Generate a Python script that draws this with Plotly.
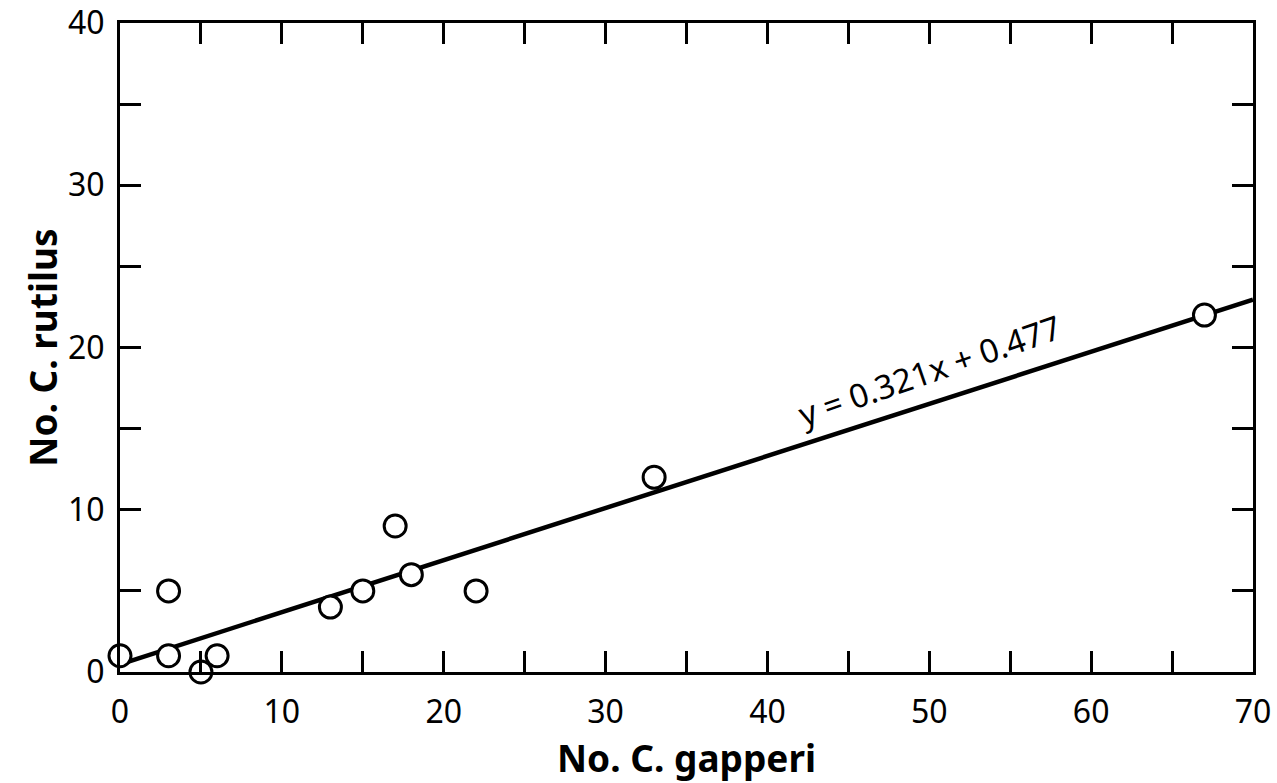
import plotly.graph_objects as go

# Data
gapperi = [0, 3, 3, 5, 6, 13, 15, 17, 18, 22, 33, 67]
rutilus = [1, 1, 5, 0, 1, 4, 5, 9, 6, 5, 12, 22]

slope = 0.321
intercept = 0.477
fit_x = [0, 70]
fit_y = [slope * v + intercept for v in fit_x]

x_tickvals = [0, 5, 10, 15, 20, 25, 30, 35, 40, 45, 50, 55, 60, 65, 70]
x_ticktext = ["0", "", "10", "", "20", "", "30", "", "40", "", "50", "", "60", "", "70"]
y_tickvals = [0, 5, 10, 15, 20, 25, 30, 35, 40]
y_ticktext = ["0", "", "10", "", "20", "", "30", "", "40"]

FONT = "Noto Sans"

fig = go.Figure()
fig.add_trace(go.Scatter(
    x=fit_x, y=fit_y, mode="lines",
    line=dict(color="black", width=4.5),
    showlegend=False, hoverinfo="skip",
))
fig.add_trace(go.Scatter(
    x=gapperi, y=rutilus, mode="markers",
    marker=dict(symbol="circle", size=22, color="white",
                line=dict(color="black", width=3)),
    cliponaxis=False, showlegend=False,
))

fig.add_annotation(
    x=50.0, y=18.6, xref="x", yref="y",
    text="y = 0.321x + 0.477", showarrow=False, textangle=-19,
    font=dict(family=FONT, size=33, color="black"),
)

axis_common = dict(
    showgrid=False, zeroline=False, showline=True, linecolor="black", linewidth=3,
    ticks="inside", ticklen=21, tickwidth=3, tickcolor="black", mirror="ticks",
    tickfont=dict(family=FONT, size=32, color="black"), automargin=False,
)

fig.update_xaxes(
    range=[0, 70], tickmode="array", tickvals=x_tickvals, ticktext=x_ticktext,
    title=dict(text="<b>No. C. gapperi</b>", font=dict(family=FONT, size=37, color="black"), standoff=12),
    ticklabelstandoff=10,
    **axis_common,
)
fig.update_yaxes(
    range=[0, 40], tickmode="array", tickvals=y_tickvals, ticktext=y_ticktext,
    title=dict(text="<b>No. C. rutilus</b>", font=dict(family=FONT, size=37, color="black"), standoff=0),
    ticklabelstandoff=6,
    **axis_common,
)

fig.update_layout(
    width=1277, height=783,
    margin=dict(l=120, r=24, t=23, b=111),
    paper_bgcolor="white", plot_bgcolor="white",
)

fig.write_html("out.html")
